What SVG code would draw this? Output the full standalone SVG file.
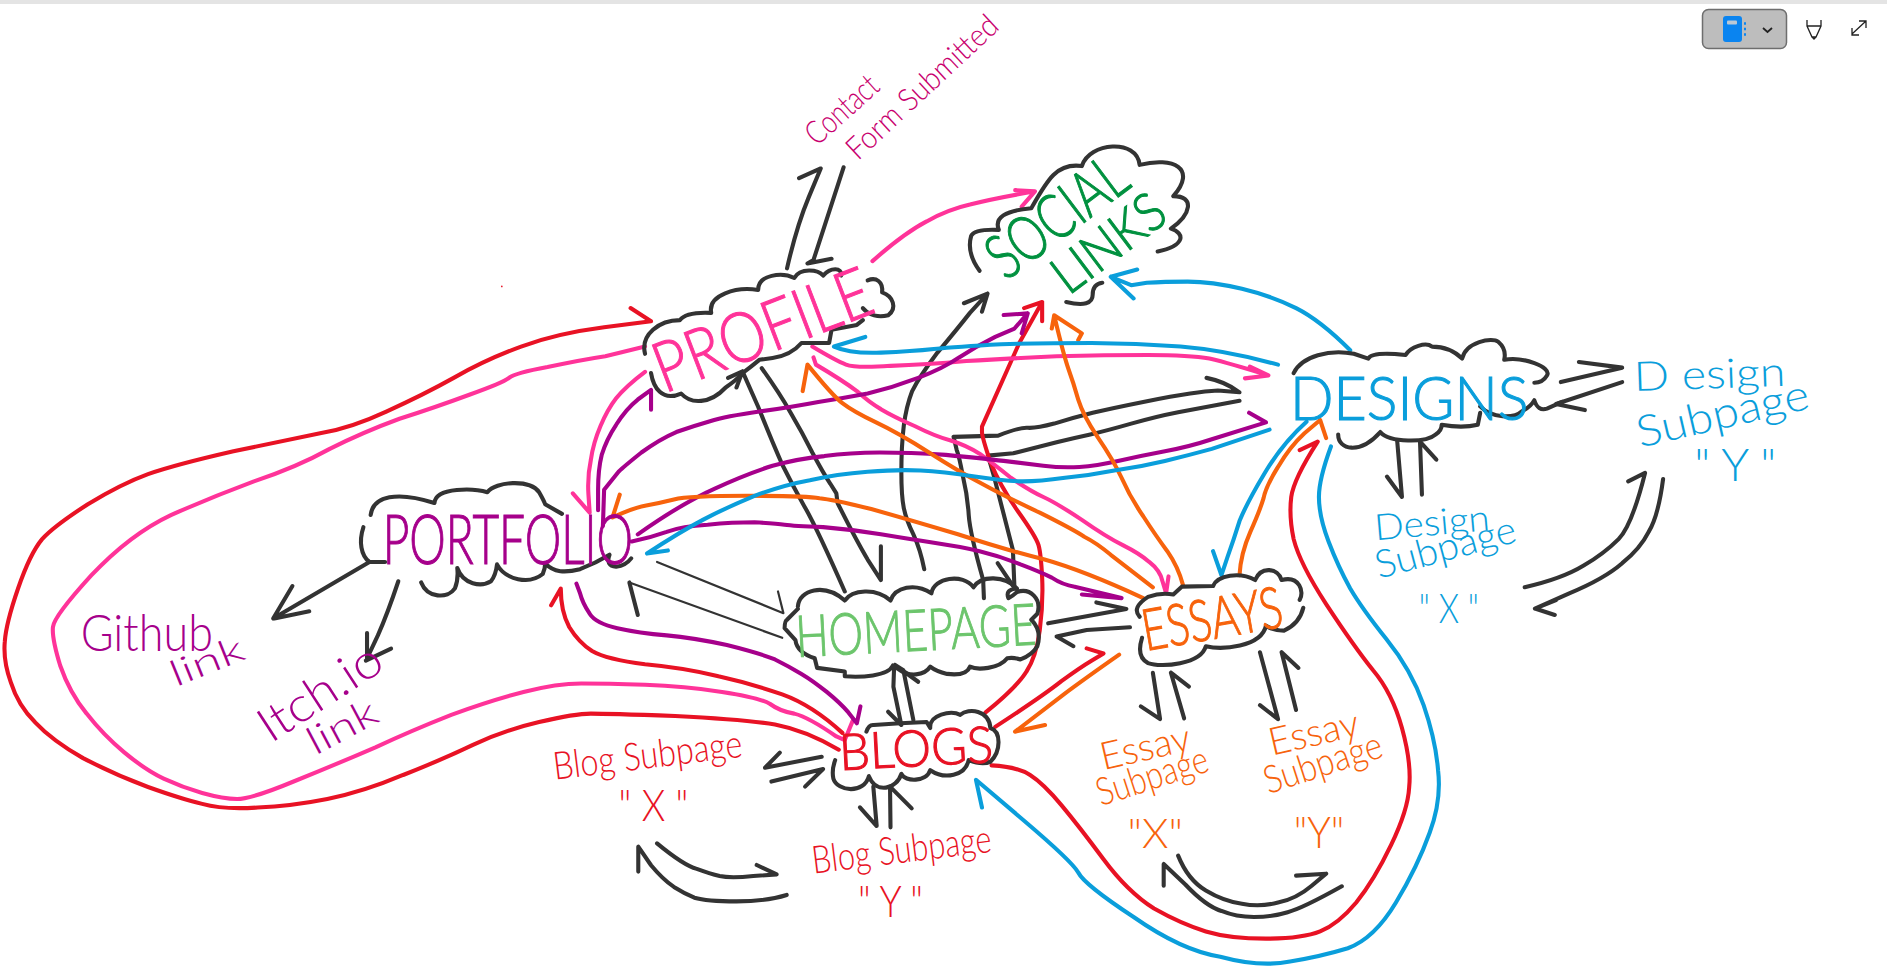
<svg xmlns="http://www.w3.org/2000/svg" width="1887" height="972" viewBox="0 0 1887 972">
<style>
.c{fill:none;stroke-width:3.4;stroke-linecap:round;stroke-linejoin:round}
.t{stroke-width:1.8}
.k{stroke:#333}.r{stroke:#e81224}.p{stroke:#ff3399}.v{stroke:#a6008b}.o{stroke:#f7630c}.b{stroke:#0a9edb}
text{font-family:"Lato","Open Sans","Liberation Sans",sans-serif;font-weight:300}
.tr{fill:#e81224}.tp{fill:#ff3399}.tv{fill:#a6008b}.to{fill:#f7630c}.tb{fill:#0a9edb}.tg{fill:#00913f}.th{fill:#6cc56c}.tm{fill:#c8006e}
.n{stroke-width:.9}
.tr.n{stroke:#e81224}.tp.n{stroke:#ff3399}.tv.n{stroke:#a6008b}.to.n{stroke:#f7630c}.tb.n{stroke:#0a9edb}.tg.n{stroke:#00913f}.th.n{stroke:#6cc56c}
</style>
<rect width="1887" height="972" fill="#fff"/>
<rect width="1887" height="4" fill="#e4e4e4"/>
<g id="toolbar">
<rect x="1702.5" y="9.5" width="84" height="39" rx="6" fill="#bdbdbd" stroke="#6e6e6e" stroke-width="1.5"/>
<rect x="1723" y="16" width="19" height="26" rx="3" fill="#0a84f0"/>
<rect x="1727" y="20.5" width="10" height="4" rx="1" fill="#bcc8d4"/>
<path d="M1744 23.5h2M1744 29h2M1744 34.5h2" stroke="#0a84f0" stroke-width="2.5" fill="none"/>
<path d="M1763 28l4.500 4 4.500-4" stroke="#222" stroke-width="1.8" fill="none"/>
<path d="M1807 20v6l5 11h4l5-11v-6M1807 26h14M1812 37l2 2 2-2" stroke="#222" stroke-width="1.3" fill="none"/>
<path d="M1852 34l14-13M1859 21h7v7M1852 28v7h7" stroke="#222" stroke-width="1.3" fill="none"/>
</g>
<g transform="scale(1.2034)">
<g id="connectors">
<!-- black -->
<path class="c k" d="M654 223Q662 188 672 164L682 140L664 148"/>
<path class="c k" d="M701 139L676 216L671 219L691 215"/>
<path class="c k" d="M307 467L227 514L243 487M228 514L257 508"/>
<path class="c k" d="M331 483Q322 510 314 528L305 547L305 526M304 549L325 539"/>
<path class="c k t" d="M546 467L651 509.5L646.5 491.5"/>
<path class="c k t" d="M650 530L523 484"/>
<path class="c k" d="M530 511L526 495.6L523 484"/>
<path class="c k" d="M702 491.5Q678 437 668 420Q659 404 650 386Q642 368 630 338L617 308.6L612 322M617 308.6L605 314"/>
<path class="c k" d="M633 306Q648 327 657 343Q667 360 675 376Q684 393 690 402L695 410L696 418Q711 448 721 465L732 482L732 454"/>
<path class="c k" d="M768 473Q765 457 759 444Q753 432 751 422Q749 412 749 392Q749 371 751 354Q753 338 758 325Q764 313 779 293Q795 274 806 260L820.6 244L816 259M820.6 244L801 252"/>
<path class="c k" d="M817.6 497L817 482Q806 443 805 428Q804 412 800 395Q797 379 795 374L792.4 363L829.5 362Q847 355 854 355.5Q861 356 876 352Q892 347 908 343Q925 339 950 334Q975 329 989 327Q1002 325 1012 324.5L1030 326Q1018 317 1002.6 314"/>
<path class="c k" d="M843 488.7L841.7 457Q830 412 826 396L821 378.6L842 376.7Q864 371 878 367.5Q892 364 906 361Q919 358 940 352Q961 346 979 342.5L1030 333"/>
<path class="c k" d="M829 468L843 488.7"/>
<path class="c k" d="M871 518L936 506L911 500.6"/>
<path class="c k" d="M939 521.3L903 523.5L878 529L892 537"/>
<path class="c k" d="M743 554L742.4 570.7L749 602.5L738 591.4"/>
<path class="c k" d="M743.8 552.6L750.7 557L759 598.4M743.8 552.6L763 566.5"/>
<path class="c k" d="M682.8 628.8L635.7 638L648 625.4"/>
<path class="c k" d="M641 649.5L684 639L669 653.7"/>
<path class="c k" d="M725.7 653.7L728.5 686.4L714.6 670.9"/>
<path class="c k" d="M739.6 653.7L740 687.5M739.6 653.7L757.6 671.7"/>
<path class="c k" d="M546 700.8Q568 719 579 722Q590 726 598 728Q607 730 626 728L645.4 726.6L628.8 718.8"/>
<path class="c k" d="M653.7 743.7Q637 749 612 749Q587 749 577 746Q568 742 560 737Q551 731 541 719L530.4 703.6L530.4 724.3"/>
<path class="c k" d="M958 559L964 597.6L948 587"/>
<path class="c k" d="M973 559L984 597M973 559L988 570.5"/>
<path class="c k" d="M1047 542L1062 597.6L1047 586"/>
<path class="c k" d="M1065 542L1077 590M1065 542L1079 555"/>
<path class="c k" d="M979 711Q987 731 1002 740Q1017 749 1032 751Q1047 754 1062 750Q1077 747 1090 736L1102 726L1077 727.6"/>
<path class="c k" d="M1115 736.5Q1082 755 1070 758Q1057 762 1042 762Q1027 762 1015 757Q1002 753 985 735L967 718L967 736"/>
<path class="c k" d="M1161 366L1165 413L1152.5 396"/>
<path class="c k" d="M1180 367L1181.6 411M1180 367L1193.6 382"/>
<path class="c k" d="M1297 317.5L1348 305.5L1312 300.8"/>
<path class="c k" d="M1348 317.5L1293 335.7L1317 340.8"/>
<path class="c k" d="M1353 400L1367 393Q1356 437 1345 448Q1333 460 1316 470Q1298 481 1267 488"/>
<path class="c k" d="M1382 398Q1378 429 1370 442Q1363 456 1348 468Q1333 481 1304 493L1275.5 505.7L1292 511M1275.5 505.7L1293 498.7"/>
<!-- red -->
<path class="c r" d="M697 623Q670 607 644 602Q619 598 561 595Q504 593 491 593Q478 593 448 600Q418 607 393 619Q368 631 335 644Q302 658 272 664Q242 670 214 671Q186 673 168 668Q151 664 123 654Q96 644 69 630Q43 615 29 600Q15 586 9 567Q2.5 549 4 533Q5 518 15 489Q25 460 35 448Q45 437 73 419Q101 402 123 394Q146 386 194 375Q242 365 266 360Q291 356 321 342Q352 328 377 314Q403 299 433 288Q463 277 502 272L541 267L524 256"/>
<path class="c r" d="M700 609Q675 586 650 577Q624 568 597 562Q569 555 536 552Q504 548 492 541Q481 534 473 521Q466 508 466 489L458 503"/>
<path class="c r" d="M819 592Q845 571 853 558Q861 546 864 524Q867 501 866 480Q865 460 863 453Q861 446 846 425Q831 404 823 384Q816 363 816 359L816 354.5L847 285L866 251L851 256M866 251L866 267"/>
<path class="c r" d="M827 604Q867 578 882 566Q897 555 907 549L917 543L903 538.8"/>
<path class="c r" d="M824 636Q845 637 856 644Q867 651 882 669Q897 687 917 714Q937 741 959 755Q982 768 1002 774Q1022 780 1052 780Q1082 780 1097 774Q1112 768 1127 750Q1142 731 1156 702Q1170 673 1171 654Q1173 634 1165 605Q1157 576 1141 557Q1125 537 1102 502Q1080 468 1075 448Q1071 429 1073 413Q1075 398 1095 367L1080 374"/>
<circle cx="417" cy="238" r=".7" fill="#e81224"/>
<!-- pink -->
<path class="c p" d="M709 598L702 615L695 612Q672 596 660 593Q648 591 640 585Q632 580 600 575Q569 570 536 569Q504 568 483 568Q463 568 435 575Q408 582 375 594Q342 607 312 621Q282 634 245 649Q209 664 197 664Q186 664 168 659Q151 654 136 647Q121 640 103 625Q86 611 72 593Q58 576 50 553Q43 530 44 521Q45 512 76 478Q108 444 142 428Q176 413 211 400Q247 388 274 373Q302 359 332 348Q363 338 390 328Q418 318 423 314Q428 310 455 305Q483 299 503 296L536 288"/>
<path class="c p" d="M536 309Q520 321 512 331Q505 340 499 354Q493 368 491 382Q488 396 489 411L490 426L476 410"/>
<path class="c p" d="M725 217Q751 194 770 184Q788 174 806 170Q825 165 860 159L843.6 158M860 159L849 171.7"/>
<path class="c p" d="M675 288Q695 300 703 303Q711 306 740 304Q770 303 803 300Q836 298 878 296Q919 295 954 295Q989 295 1005 298Q1022 302 1054 312L1034.5 314.4M1054 312L1038.6 304.7"/>
<path class="c p" d="M676 297L678 303Q700 316 712 325Q723 335 732 340Q742 346 760 354Q778 363 790 366Q803 370 814 377Q825 385 840 397Q856 408 867 413Q878 418 899 432Q919 446 933 453Q947 460 955 467Q964 474 966 483L969 493L971 479"/>
<!-- purple -->
<path class="c v" d="M497 424L497 407Q497 390 500 378Q504 365 512 353Q520 340 530 332L541 324L541 340.5"/>
<path class="c v" d="M501 437L502 407Q510 397 514 392Q518 388 533 376Q548 365 562 359Q576 354 590 350Q603 346 631 342Q659 338 680 334Q700 331 721 327Q742 322 763 314Q784 306 797 297Q811 288 827 280L843 273L854 260.4L834 261.8M854 260.4L849 277"/>
<path class="c v" d="M530 444Q567 418 594 406Q620 394 642 387Q664 381 685 379Q706 376 731 376Q756 376 786 378Q817 381 834 383Q850 385 867 387Q883 389 897 388Q911 387 929 383Q947 379 968 375Q989 371 1007 365L1052 351L1038 343"/>
<path class="c v" d="M525 450Q540 447 554 442Q567 437 588 436Q609 434 627 434Q645 435 652 436Q659 437 684 438Q709 440 732 444Q756 448 776 451Q797 454 814 458Q831 462 848 469Q864 475 874 480Q883 486 893 487.5L932 497L899 494"/>
<path class="c v" d="M479 485L482 493Q484 501 490 510Q495 518 513 522Q531 526 554 528Q576 530 604 536Q632 543 644 548Q656 554 666 560Q676 566 687 575Q698 584 705 592L712 601L715 587"/>
<!-- orange -->
<path class="c o" d="M950 497Q900 474 868 465Q836 457 796 444Q756 432 724 423Q692 415 681 414Q670 412 621 412Q572 412 560 415Q548 418 537 420Q526 422 509 430L515 411"/>
<path class="c o" d="M958 488Q936 471 923 461Q911 451 901 446Q892 440 864 426Q836 413 816 402Q797 392 772 376Q747 360 728 351Q709 342 700 335Q692 329 671 303L667 325"/>
<path class="c o" d="M983 486Q979 471 970 458Q961 446 950 429Q939 413 932 397Q925 382 912 363Q900 345 896 332Q892 318 888 307Q884 296 876 262L874 273M876 262L899 277L896 282.5"/>
<path class="c o" d="M1030 478Q1031 460 1039 442Q1047 424 1050 414Q1052 404 1062 388Q1072 371 1084 360L1097 349L1102 364"/>
<path class="c o" d="M930 544Q900 565 884 577Q867 590 843.5 608L868.4 602.5"/>
<!-- blue -->
<path class="c b" d="M1062 303Q1018 291 981 288Q944 285 907 285Q870 285 832 286Q795 288 776 290Q758 292 732 293Q706 294 693 288L719 280"/>
<path class="c b" d="M555 457.4L537.6 460Q565 442 584 432Q603 422 627 412Q651 403 673 399Q695 394 721 392Q747 390 765 391Q783 392 810 396Q836 400 850 400Q864 400 885 397Q906 395 926 391Q947 388 968 383Q989 378 1007 373L1055 357"/>
<path class="c b" d="M1122 291Q1097 266 1077 256Q1057 246 1032 240Q1007 234 987 234Q967 234 953 235L940 237L923 230L945 224M923 230L942 248"/>
<path class="c b" d="M1085.7 350.4Q1066 368 1051 393Q1036 418 1030 433Q1025 449 1020 463L1015 478L1008 458"/>
<path class="c b" d="M1106 371Q1096 398 1096 413Q1096 429 1104 450Q1112 471 1122 489Q1132 506 1152 531Q1173 557 1183 586Q1193 615 1195 640Q1198 665 1188 692Q1178 720 1160 750Q1142 780 1120 788Q1097 795 1072 799Q1047 804 1014 795Q982 790 942 762Q901 735 896 725Q891 716 851 682L811 648L816 671"/>
</g>
<g id="node-social">
<path class="c k" d="M814 225Q803 210 807 196Q810 190 830 191Q824 176 857 173C870 150 878 135 899 138C905 118 945 115 947 137C975 130 995 140 975 163C993 163 990 178 973 190C985 194 985 204 962 209"/>
<path class="c k" d="M916 235Q908 236 908 245Q908 256 886 251"/>
<text class="tg n" font-size="52" textLength="132" lengthAdjust="spacingAndGlyphs" transform="translate(836 234) rotate(-37)">SOCIAL</text>
<text class="tg n" font-size="44" textLength="106" lengthAdjust="spacingAndGlyphs" transform="translate(888 246) rotate(-37)">LINKS</text>
</g>
<g id="node-profile">
<path class="c k" d="M536 294C532 278 548 266 565 266Q570 259 591 260C588 245 612 238 630 241C630 228 650 226 660 231C665 222 680 224 684 229C690 222 700 222 699 229"/>
<path class="c k" d="M721 233C728 230 734 234 733 243C742 246 746 256 738 262C730 264 722 262 717 256"/>
<path class="c k" d="M541 310C543 322 550 334 566 327C574 336 590 336 603 322Q612 316 617 310Q625 304 631 299L642 297.5C652 296 660 292 666 285L689 285L691 274L712 270L717 266"/>
<text class="tp n" font-size="58" textLength="190" lengthAdjust="spacingAndGlyphs" transform="translate(552 327) rotate(-21)">PROFILE</text>
</g>
<g id="node-portfolio">
<path class="c k" d="M308 428C310 412 330 408 361 418C362 404 395 406 405 409C412 400 440 398 448 409Q452 416 453 419L467 427"/>
<path class="c k" d="M302 438C298 450 300 462 307 467L320 467"/>
<path class="c k" d="M350 484C355 497 372 498 378 489Q381 482 380 472C385 486 400 488 408 483Q412 478 413 469C420 482 440 486 451 477Q453 473 453 468C460 476 470 476 482 473Q495 468 506.5 461Q503 470 512 471Q520 470 524.5 464"/>
<text class="tv n" font-size="58" textLength="208" lengthAdjust="spacingAndGlyphs" x="318" y="469">PORTFOLIO</text>
</g>
<g id="node-homepage">
<path class="c k" d="M663 504C664 490 685 484 702 499C708 490 728 488 740 499C744 488 760 484 774 493C776 480 800 476 809 488C815 478 835 478 845 489Q835 490 838 497Q842 495 845 492C856 488 866 498 862 510Q858 514 857 515Q866 524 862 537Q858 544 848 548Q842 546 837 547C830 556 812 557 806 554Q803 562 787 560Q778 558 773 554C768 562 755 562 748 557L742 553C738 562 715 563 702 562L702 558L679 555L677 547C668 544 662 540 661 532L652 522Q652 516 654 515L663 506"/>
<text class="th n" font-size="48" textLength="200" lengthAdjust="spacingAndGlyphs" transform="translate(662 546) rotate(-3)">HOMEPAGE</text>
</g>
<g id="node-blogs">
<path class="c k" d="M720 608Q722 602 726 602.5L748 601L770 600L773 605C772 594 790 590 798 594C805 588 822 590 823 605C832 608 832 624 823 633Q816 636 805 631.6C802 645 785 648 773 640C770 650 752 650 749 643C745 656 728 660 722 645C718 660 696 658 692.5 647Q691 640 694 631.6"/>
<text class="tr n" font-size="42" textLength="128" lengthAdjust="spacingAndGlyphs" transform="translate(698 640) rotate(-3)">BLOGS</text>
</g>
<g id="node-essays">
<path class="c k" d="M947 512.5Q940 505 954 496Q965 492 975 494L982 487.5L1008 487C1012 478 1030 475 1043 482C1048 470 1062 472 1065 482C1080 478 1084 492 1080 498.5"/>
<path class="c k" d="M1083 505Q1080 518 1067 524Q1058 524 1052 520C1048 538 1015 540 1002 537C998 552 965 555 954 551Q944 546 949 530"/>
<text class="to n" font-size="48" textLength="118" lengthAdjust="spacingAndGlyphs" transform="translate(952 541) rotate(-10)">ESSAYS</text>
</g>
<g id="node-designs">
<path class="c k" d="M1075 310C1082 296 1105 290 1125 294L1137 298Q1140 292 1168 295C1172 288 1185 284 1190 288Q1205 288 1215 298C1218 284 1240 280 1245 284Q1252 290 1250 299C1265 296 1290 305 1285.5 312Q1282 318 1275 318"/>
<path class="c k" d="M1230 337.7C1240 348 1258 348 1265 341.5Q1272 338 1275 332.6Q1278 342 1285.5 339.6L1298 334"/>
<path class="c k" d="M1112 361C1112 374 1130 378 1147 359C1155 368 1185 368 1193 361Q1198 358 1198 353Q1215 356 1228 353L1230 343"/>
<text class="tb n" font-size="50" textLength="198" lengthAdjust="spacingAndGlyphs" x="1072" y="349">DESIGNS</text>
</g>
<g id="labels">
<text class="tm" font-size="27" textLength="72" lengthAdjust="spacingAndGlyphs" transform="translate(679 122) rotate(-42)">Contact</text>
<text class="tm" font-size="26" textLength="162" lengthAdjust="spacingAndGlyphs" transform="translate(713 134) rotate(-43)">Form Submitted</text>
<text class="tv" font-size="42" textLength="110" lengthAdjust="spacingAndGlyphs" x="67" y="541">Github</text>
<text class="tv" font-size="30" textLength="64" lengthAdjust="spacingAndGlyphs" transform="translate(146 571) rotate(-22)">link</text>
<text class="tv" font-size="40" textLength="115" lengthAdjust="spacingAndGlyphs" transform="translate(225 618) rotate(-33)">Itch.io</text>
<text class="tv" font-size="32" textLength="62" lengthAdjust="spacingAndGlyphs" transform="translate(262 628) rotate(-28)">link</text>
<text class="tr" font-size="32" textLength="158" lengthAdjust="spacingAndGlyphs" transform="translate(461 648) rotate(-7)">Blog Subpage</text>
<text class="tr" font-size="36" textLength="58" lengthAdjust="spacingAndGlyphs" x="514" y="682">" X "</text>
<text class="tr" font-size="32" textLength="150" lengthAdjust="spacingAndGlyphs" transform="translate(676 726) rotate(-7)">Blog Subpage</text>
<text class="tr" font-size="36" textLength="54" lengthAdjust="spacingAndGlyphs" x="713" y="762">" Y "</text>
<text class="to" font-size="32" textLength="76" lengthAdjust="spacingAndGlyphs" transform="translate(917 640) rotate(-13)">Essay</text>
<text class="to" font-size="32" textLength="96" lengthAdjust="spacingAndGlyphs" transform="translate(915 670) rotate(-18)">Subpage</text>
<text class="to" font-size="34" textLength="46" lengthAdjust="spacingAndGlyphs" x="937" y="705">"X"</text>
<text class="to" font-size="32" textLength="76" lengthAdjust="spacingAndGlyphs" transform="translate(1057 628) rotate(-13)">Essay</text>
<text class="to" font-size="32" textLength="102" lengthAdjust="spacingAndGlyphs" transform="translate(1054 660) rotate(-18)">Subpage</text>
<text class="to" font-size="36" textLength="42" lengthAdjust="spacingAndGlyphs" x="1075" y="705">"Y"</text>
<text class="tb" font-size="30" textLength="96" lengthAdjust="spacingAndGlyphs" transform="translate(1143 449) rotate(-5)">Design</text>
<text class="tb" font-size="32" textLength="120" lengthAdjust="spacingAndGlyphs" transform="translate(1146 481) rotate(-15)">Subpage</text>
<text class="tb" font-size="34" textLength="50" lengthAdjust="spacingAndGlyphs" x="1179" y="518">" X "</text>
<text class="tb" font-size="34" textLength="126" lengthAdjust="spacingAndGlyphs" transform="translate(1358 325) rotate(-2)">D esign</text>
<text class="tb" font-size="36" textLength="146" lengthAdjust="spacingAndGlyphs" transform="translate(1363 372) rotate(-13)">Subpage</text>
<text class="tb" font-size="38" textLength="68" lengthAdjust="spacingAndGlyphs" x="1408" y="400">" Y "</text>
</g>
</g>
</svg>
